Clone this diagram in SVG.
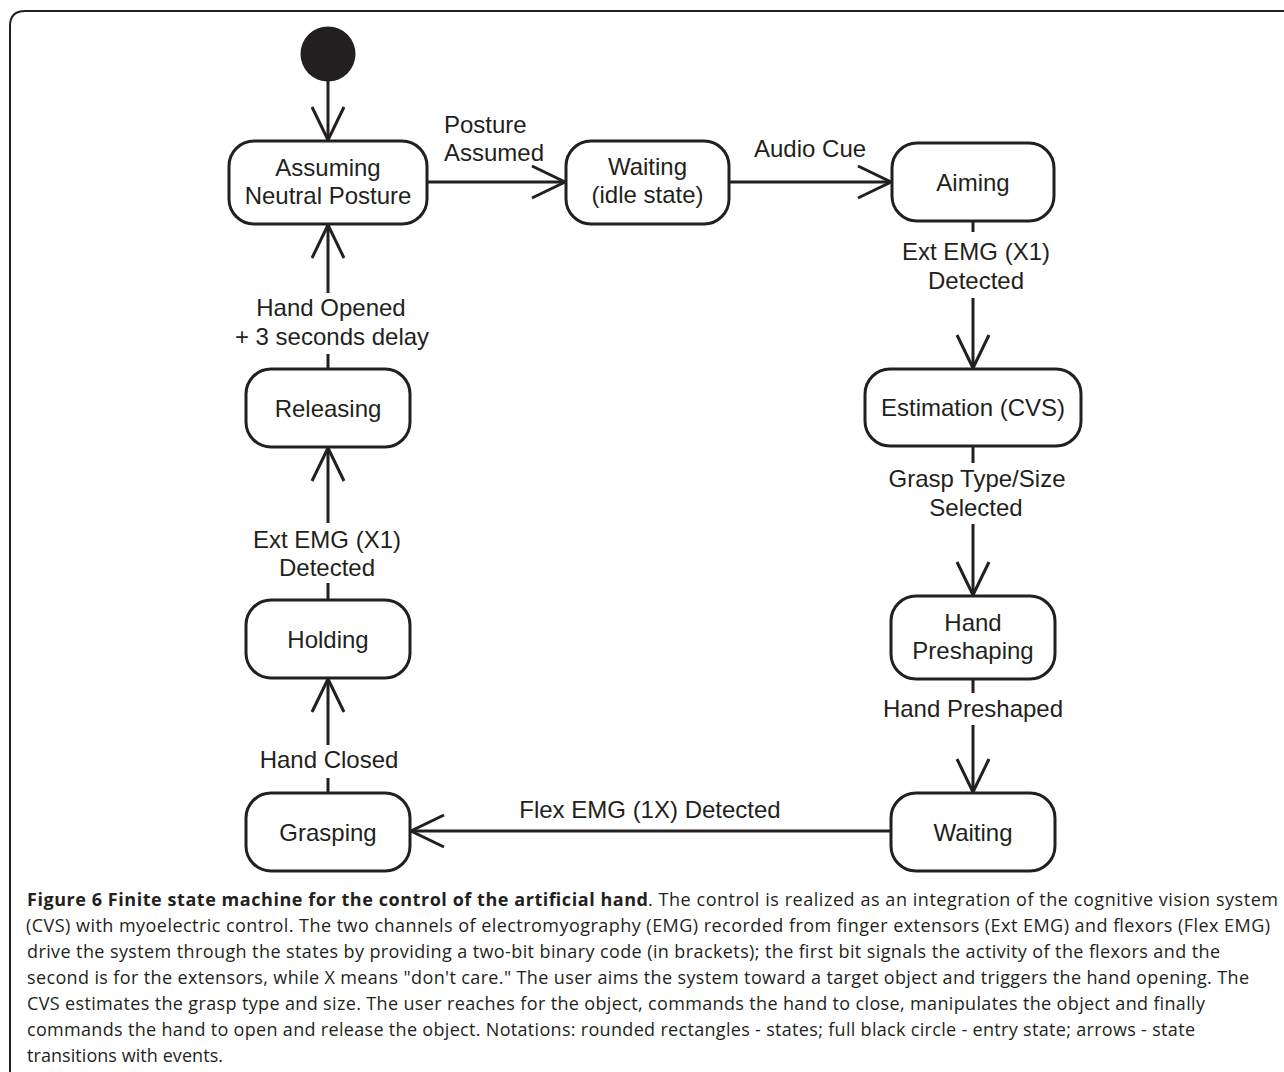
<svg xmlns="http://www.w3.org/2000/svg" width="1284" height="1072" viewBox="0 0 1284 1072">
<style>
.node{fill:#fff;stroke:#231f20;stroke-width:3}
.lbl{font-family:"Liberation Sans",Arial,sans-serif;font-size:24px;fill:#231f20;text-anchor:middle}
.lbl-l{font-family:"Liberation Sans",Arial,sans-serif;font-size:24px;fill:#231f20}
.con{stroke:#231f20;stroke-width:3;fill:none}
.cap{font-family:"Open Sans","Noto Sans",sans-serif;font-size:18px;fill:#231f20}
.capb{font-family:"Open Sans","Noto Sans",sans-serif;font-size:18px;font-weight:bold;fill:#231f20}
</style>
<defs>
<marker id="arr" markerUnits="userSpaceOnUse" markerWidth="40" markerHeight="40" viewBox="-36 -20 40 40" refX="0" refY="0" orient="auto">
<path d="M -33 -16 L 0 0 L -33 16" fill="none" stroke="#231f20" stroke-width="3" stroke-linejoin="miter"/>
</marker>
</defs>
<rect width="1284" height="1072" fill="#fff"/>
<path d="M 10 1072 L 10 26 Q 10 11 25 11 L 1284 11" fill="none" stroke="#231f20" stroke-width="2"/>

<g id="connectors">
<line class="con" x1="328" y1="80" x2="328" y2="140" marker-end="url(#arr)"/>
<line class="con" x1="427" y1="182" x2="565" y2="182" marker-end="url(#arr)"/>
<line class="con" x1="729" y1="182" x2="891" y2="182" marker-end="url(#arr)"/>
<line class="con" x1="973" y1="221" x2="973" y2="232"/>
<line class="con" x1="973" y1="298" x2="973" y2="368" marker-end="url(#arr)"/>
<line class="con" x1="973" y1="446" x2="973" y2="463"/>
<line class="con" x1="973" y1="524" x2="973" y2="595" marker-end="url(#arr)"/>
<line class="con" x1="973" y1="679" x2="973" y2="693"/>
<line class="con" x1="973" y1="725" x2="973" y2="792" marker-end="url(#arr)"/>
<line class="con" x1="891" y1="831" x2="411" y2="831" marker-end="url(#arr)"/>
<line class="con" x1="328" y1="793" x2="328" y2="778"/>
<line class="con" x1="328" y1="745" x2="328" y2="679" marker-end="url(#arr)"/>
<line class="con" x1="328" y1="600" x2="328" y2="583"/>
<line class="con" x1="328" y1="523" x2="328" y2="448" marker-end="url(#arr)"/>
<line class="con" x1="328" y1="369" x2="328" y2="354"/>
<line class="con" x1="328" y1="293" x2="328" y2="225" marker-end="url(#arr)"/>
<text class="lbl-l" x="444" y="133">Posture</text>
<text class="lbl-l" x="444" y="161">Assumed</text>
<text class="lbl-l" x="754" y="157">Audio Cue</text>
<text class="lbl" x="976" y="260">Ext EMG (X1)</text>
<text class="lbl" x="976" y="289">Detected</text>
<text class="lbl" x="977" y="487">Grasp Type/Size</text>
<text class="lbl" x="976" y="516">Selected</text>
<text class="lbl" x="973" y="717">Hand Preshaped</text>
<text class="lbl" x="650" y="818">Flex EMG (1X) Detected</text>
<text class="lbl" x="329" y="768">Hand Closed</text>
<text class="lbl" x="327" y="548">Ext EMG (X1)</text>
<text class="lbl" x="327" y="576">Detected</text>
<text class="lbl" x="331" y="316">Hand Opened</text>
<text class="lbl" x="332" y="345">+ 3 seconds delay</text>
</g>

<g id="entry"><circle cx="328" cy="54" r="27.5" fill="#231f20"/></g>
<g id="assuming"><rect class="node" x="229" y="141" width="198" height="83" rx="25"/>
<text class="lbl" x="328" y="176">Assuming</text><text class="lbl" x="328" y="204">Neutral Posture</text></g>
<g id="waiting-idle"><rect class="node" x="566" y="141" width="163" height="83" rx="25"/>
<text class="lbl" x="647.5" y="175">Waiting</text><text class="lbl" x="647.5" y="203">(idle state)</text></g>
<g id="aiming"><rect class="node" x="892" y="143" width="162" height="78" rx="25"/>
<text class="lbl" x="973" y="191">Aiming</text></g>
<g id="estimation"><rect class="node" x="865" y="369" width="216" height="77" rx="25"/>
<text class="lbl" x="973" y="416">Estimation (CVS)</text></g>
<g id="preshaping"><rect class="node" x="891" y="596" width="164" height="83" rx="25"/>
<text class="lbl" x="973" y="631">Hand</text><text class="lbl" x="973" y="659">Preshaping</text></g>
<g id="waiting"><rect class="node" x="891" y="793" width="164" height="78" rx="25"/>
<text class="lbl" x="973" y="841">Waiting</text></g>
<g id="grasping"><rect class="node" x="246" y="793" width="164" height="78" rx="25"/>
<text class="lbl" x="328" y="841">Grasping</text></g>
<g id="holding"><rect class="node" x="246" y="600" width="164" height="78" rx="25"/>
<text class="lbl" x="328" y="648">Holding</text></g>
<g id="releasing"><rect class="node" x="246" y="369" width="164" height="78" rx="25"/>
<text class="lbl" x="328" y="417">Releasing</text></g>

<g id="caption">
<text class="capb" x="27" y="906" textLength="621">Figure 6 Finite state machine for the control of the artificial hand</text>
<text class="cap" x="648" y="906" textLength="630">. The control is realized as an integration of the cognitive vision system</text>
<text class="cap" x="26" y="932" textLength="1244">(CVS) with myoelectric control. The two channels of electromyography (EMG) recorded from finger extensors (Ext EMG) and flexors (Flex EMG)</text>
<text class="cap" x="27" y="958" textLength="1193">drive the system through the states by providing a two-bit binary code (in brackets); the first bit signals the activity of the flexors and the</text>
<text class="cap" x="27" y="984" textLength="1222">second is for the extensors, while X means "don't care." The user aims the system toward a target object and triggers the hand opening. The</text>
<text class="cap" x="27" y="1010" textLength="1178">CVS estimates the grasp type and size. The user reaches for the object, commands the hand to close, manipulates the object and finally</text>
<text class="cap" x="27" y="1036" textLength="1168">commands the hand to open and release the object. Notations: rounded rectangles - states; full black circle - entry state; arrows - state</text>
<text class="cap" x="27" y="1062" textLength="196">transitions with events.</text>
</g>
</svg>
